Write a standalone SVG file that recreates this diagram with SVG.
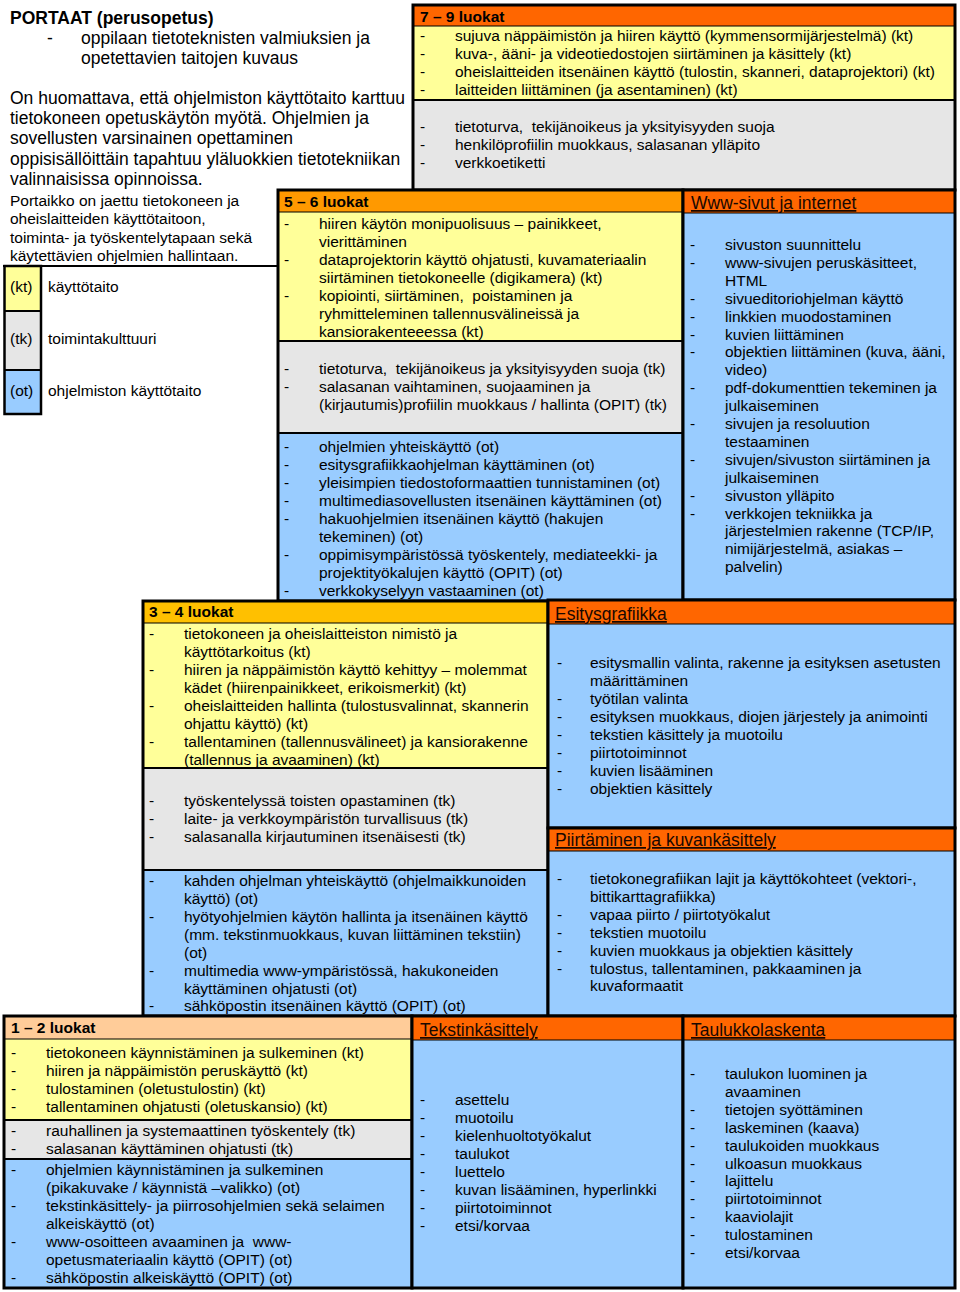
<svg xmlns="http://www.w3.org/2000/svg" width="960" height="1292" viewBox="0 0 960 1292">
<style>
text{font-family:"Liberation Sans",Arial,sans-serif;fill:#000}
.t{font-size:15.5px}
.h{font-size:15.5px;font-weight:bold}
.big{font-size:17.5px}
.bigb{font-size:17.5px;font-weight:bold}
.th{font-size:17.5px;text-decoration:underline;fill:#1a0800}
.y{fill:#FFFF99}.g{fill:#E6E6E6}.b{fill:#99CCFF}.o{fill:#FF6600}
.o2{fill:#FF9900}.o3{fill:#FFC000}.o4{fill:#FFCC99}
.box{fill:none;stroke:#000;stroke-width:3}
.dv{stroke:#000;stroke-width:2}
.dt{stroke:#000;stroke-width:1.2}
</style>
<rect width="960" height="1292" fill="#fff"/>

<g id="intro">
<text class="bigb" x="10" y="24">PORTAAT (perusopetus)</text>
<text class="big" x="47" y="44">-</text>
<text class="big" x="81" y="44">oppilaan tietoteknisten valmiuksien ja</text>
<text class="big" x="81" y="64">opetettavien taitojen kuvaus</text>
<text class="big" x="10" y="104">On huomattava, että ohjelmiston käyttötaito karttuu</text>
<text class="big" x="10" y="124.2">tietokoneen opetuskäytön myötä. Ohjelmien ja</text>
<text class="big" x="10" y="144.4">sovellusten varsinainen opettaminen</text>
<text class="big" x="10" y="164.6">oppisisällöittäin tapahtuu yläluokkien tietotekniikan</text>
<text class="big" x="10" y="184.8">valinnaisissa opinnoissa.</text>
<text class="t" x="10" y="206">Portaikko on jaettu tietokoneen ja</text>
<text class="t" x="10" y="224.3">oheislaitteiden käyttötaitoon,</text>
<text class="t" x="10" y="242.6">toiminta- ja työskentelytapaan sekä</text>
<text class="t" x="10" y="260.9">käytettävien ohjelmien hallintaan.</text>
</g>

<g id="legend">
<line x1="3" y1="266" x2="278" y2="266" class="dv"/>
<rect x="4" y="266" width="37" height="45" class="y"/>
<rect x="4" y="311" width="37" height="59" class="g"/>
<rect x="4" y="370" width="37" height="44" class="b"/>
<rect x="4.5" y="266" width="36.5" height="148" fill="none" stroke="#000" stroke-width="2.5"/>
<line x1="4" y1="311" x2="41" y2="311" class="dv"/>
<line x1="4" y1="370" x2="41" y2="370" class="dv"/>
<text class="t" x="10" y="292">(kt)</text>
<text class="t" x="48" y="292">käyttötaito</text>
<text class="t" x="10" y="344">(tk)</text>
<text class="t" x="48" y="344">toimintakulttuuri</text>
<text class="t" x="10" y="396">(ot)</text>
<text class="t" x="48" y="396">ohjelmiston käyttötaito</text>
</g>

<g id="luokat-7-9">
<rect x="413" y="5" width="542" height="21" class="o"/>
<rect x="413" y="26" width="542" height="74" class="y"/>
<rect x="413" y="100" width="542" height="90" class="g"/>
<line x1="413" y1="26" x2="955" y2="26" class="dt"/>
<line x1="413" y1="100" x2="955" y2="100" class="dv"/>
<rect x="413" y="5" width="542" height="185" class="box"/>
<text class="h" x="420" y="22">7 – 9 luokat</text>
<text class="t"><tspan x="420" y="41">-</tspan><tspan x="420" y="59">-</tspan><tspan x="420" y="77">-</tspan><tspan x="420" y="95">-</tspan><tspan x="420" y="132">-</tspan><tspan x="420" y="150">-</tspan><tspan x="420" y="168">-</tspan></text>
<text class="t">
<tspan x="455" y="41">sujuva näppäimistön ja hiiren käyttö (kymmensormijärjestelmä) (kt)</tspan>
<tspan x="455" y="59">kuva-, ääni- ja videotiedostojen siirtäminen ja käsittely (kt)</tspan>
<tspan x="455" y="77">oheislaitteiden itsenäinen käyttö (tulostin, skanneri, dataprojektori) (kt)</tspan>
<tspan x="455" y="95">laitteiden liittäminen (ja asentaminen) (kt)</tspan>
<tspan x="455" y="132">tietoturva,&#160; tekijänoikeus ja yksityisyyden suoja</tspan>
<tspan x="455" y="150">henkilöprofiilin muokkaus, salasanan ylläpito</tspan>
<tspan x="455" y="168">verkkoetiketti</tspan>
</text>
</g>

<g id="luokat-5-6">
<rect x="278" y="190" width="405" height="22" class="o2"/>
<rect x="278" y="212" width="405" height="129" class="y"/>
<rect x="278" y="341" width="405" height="92" class="g"/>
<rect x="278" y="433" width="405" height="168" class="b"/>
<line x1="278" y1="212" x2="683" y2="212" class="dt"/>
<line x1="278" y1="341" x2="683" y2="341" class="dv"/>
<line x1="278" y1="433" x2="683" y2="433" class="dv"/>
<rect x="278" y="190" width="405" height="411" class="box"/>
<text class="h" x="284" y="207">5 – 6 luokat</text>
<text class="t"><tspan x="284" y="229">-</tspan><tspan x="284" y="265">-</tspan><tspan x="284" y="301">-</tspan><tspan x="284" y="374">-</tspan><tspan x="284" y="392">-</tspan><tspan x="284" y="452">-</tspan><tspan x="284" y="470">-</tspan><tspan x="284" y="488">-</tspan><tspan x="284" y="506">-</tspan><tspan x="284" y="524">-</tspan><tspan x="284" y="560">-</tspan><tspan x="284" y="596">-</tspan></text>
<text class="t">
<tspan x="319" y="229">hiiren käytön monipuolisuus – painikkeet,</tspan>
<tspan x="319" y="247">vierittäminen</tspan>
<tspan x="319" y="265">dataprojektorin käyttö ohjatusti, kuvamateriaalin</tspan>
<tspan x="319" y="283">siirtäminen tietokoneelle (digikamera) (kt)</tspan>
<tspan x="319" y="301">kopiointi, siirtäminen,&#160; poistaminen ja</tspan>
<tspan x="319" y="319">ryhmitteleminen tallennusvälineissä ja</tspan>
<tspan x="319" y="337">kansiorakenteeessa (kt)</tspan>
<tspan x="319" y="374">tietoturva,&#160; tekijänoikeus ja yksityisyyden suoja (tk)</tspan>
<tspan x="319" y="392">salasanan vaihtaminen, suojaaminen ja</tspan>
<tspan x="319" y="410">(kirjautumis)profiilin muokkaus / hallinta (OPIT) (tk)</tspan>
<tspan x="319" y="452">ohjelmien yhteiskäyttö (ot)</tspan>
<tspan x="319" y="470">esitysgrafiikkaohjelman käyttäminen (ot)</tspan>
<tspan x="319" y="488">yleisimpien tiedostoformaattien tunnistaminen (ot)</tspan>
<tspan x="319" y="506">multimediasovellusten itsenäinen käyttäminen (ot)</tspan>
<tspan x="319" y="524">hakuohjelmien itsenäinen käyttö (hakujen</tspan>
<tspan x="319" y="542">tekeminen) (ot)</tspan>
<tspan x="319" y="560">oppimisympäristössä työskentely, mediateekki- ja</tspan>
<tspan x="319" y="578">projektityökalujen käyttö (OPIT) (ot)</tspan>
<tspan x="319" y="596">verkkokyselyyn vastaaminen (ot)</tspan>
</text>
</g>

<g id="www-sivut">
<rect x="683" y="190" width="272" height="23" class="o"/>
<rect x="683" y="213" width="272" height="387" class="b"/>
<line x1="683" y1="213" x2="955" y2="213" class="dt"/>
<rect x="683" y="190" width="272" height="410" class="box"/>
<text class="th" x="691" y="209">Www-sivut ja internet</text>
<text class="t"><tspan x="690" y="250">-</tspan><tspan x="690" y="267.9">-</tspan><tspan x="690" y="303.7">-</tspan><tspan x="690" y="321.6">-</tspan><tspan x="690" y="339.5">-</tspan><tspan x="690" y="357.4">-</tspan><tspan x="690" y="393.2">-</tspan><tspan x="690" y="429">-</tspan><tspan x="690" y="464.8">-</tspan><tspan x="690" y="500.6">-</tspan><tspan x="690" y="518.5">-</tspan></text>
<text class="t">
<tspan x="725" y="250">sivuston suunnittelu</tspan>
<tspan x="725" y="267.9">www-sivujen peruskäsitteet,</tspan>
<tspan x="725" y="285.8">HTML</tspan>
<tspan x="725" y="303.7">sivueditoriohjelman käyttö</tspan>
<tspan x="725" y="321.6">linkkien muodostaminen</tspan>
<tspan x="725" y="339.5">kuvien liittäminen</tspan>
<tspan x="725" y="357.4">objektien liittäminen (kuva, ääni,</tspan>
<tspan x="725" y="375.3">video)</tspan>
<tspan x="725" y="393.2">pdf-dokumenttien tekeminen ja</tspan>
<tspan x="725" y="411.1">julkaiseminen</tspan>
<tspan x="725" y="429">sivujen ja resoluution</tspan>
<tspan x="725" y="446.9">testaaminen</tspan>
<tspan x="725" y="464.8">sivujen/sivuston siirtäminen ja</tspan>
<tspan x="725" y="482.7">julkaiseminen</tspan>
<tspan x="725" y="500.6">sivuston ylläpito</tspan>
<tspan x="725" y="518.5">verkkojen tekniikka ja</tspan>
<tspan x="725" y="536.4">järjestelmien rakenne (TCP/IP,</tspan>
<tspan x="725" y="554.3">nimijärjestelmä, asiakas –</tspan>
<tspan x="725" y="572.2">palvelin)</tspan>
</text>
</g>

<g id="luokat-3-4">
<rect x="143" y="601" width="405" height="22" class="o3"/>
<rect x="143" y="623" width="405" height="145" class="y"/>
<rect x="143" y="768" width="405" height="102" class="g"/>
<rect x="143" y="870" width="405" height="146" class="b"/>
<line x1="143" y1="623" x2="548" y2="623" class="dt"/>
<line x1="143" y1="768" x2="548" y2="768" class="dv"/>
<line x1="143" y1="870" x2="548" y2="870" class="dv"/>
<rect x="143" y="601" width="405" height="415" class="box"/>
<text class="h" x="149" y="617">3 – 4 luokat</text>
<text class="t"><tspan x="149" y="639">-</tspan><tspan x="149" y="675">-</tspan><tspan x="149" y="711">-</tspan><tspan x="149" y="747">-</tspan><tspan x="149" y="806">-</tspan><tspan x="149" y="824">-</tspan><tspan x="149" y="842">-</tspan><tspan x="149" y="886">-</tspan><tspan x="149" y="922">-</tspan><tspan x="149" y="976">-</tspan><tspan x="149" y="1011">-</tspan></text>
<text class="t">
<tspan x="184" y="639">tietokoneen ja oheislaitteiston nimistö ja</tspan>
<tspan x="184" y="657">käyttötarkoitus (kt)</tspan>
<tspan x="184" y="675">hiiren ja näppäimistön käyttö kehittyy – molemmat</tspan>
<tspan x="184" y="693">kädet (hiirenpainikkeet, erikoismerkit) (kt)</tspan>
<tspan x="184" y="711">oheislaitteiden hallinta (tulostusvalinnat, skannerin</tspan>
<tspan x="184" y="729">ohjattu käyttö) (kt)</tspan>
<tspan x="184" y="747">tallentaminen (tallennusvälineet) ja kansiorakenne</tspan>
<tspan x="184" y="765">(tallennus ja avaaminen) (kt)</tspan>
<tspan x="184" y="806">työskentelyssä toisten opastaminen (tk)</tspan>
<tspan x="184" y="824">laite- ja verkkoympäristön turvallisuus (tk)</tspan>
<tspan x="184" y="842">salasanalla kirjautuminen itsenäisesti (tk)</tspan>
<tspan x="184" y="886">kahden ohjelman yhteiskäyttö (ohjelmaikkunoiden</tspan>
<tspan x="184" y="904">käyttö) (ot)</tspan>
<tspan x="184" y="922">hyötyohjelmien käytön hallinta ja itsenäinen käyttö</tspan>
<tspan x="184" y="940">(mm. tekstinmuokkaus, kuvan liittäminen tekstiin)</tspan>
<tspan x="184" y="958">(ot)</tspan>
<tspan x="184" y="976">multimedia www-ympäristössä, hakukoneiden</tspan>
<tspan x="184" y="994">käyttäminen ohjatusti (ot)</tspan>
<tspan x="184" y="1011">sähköpostin itsenäinen käyttö (OPIT) (ot)</tspan>
</text>
</g>

<g id="esitysgrafiikka">
<rect x="548" y="600" width="407" height="24" class="o"/>
<rect x="548" y="624" width="407" height="204" class="b"/>
<line x1="548" y1="624" x2="955" y2="624" class="dt"/>
<rect x="548" y="600" width="407" height="228" class="box"/>
<text class="th" x="555" y="620">Esitysgrafiikka</text>
<text class="t"><tspan x="557" y="668">-</tspan><tspan x="557" y="704">-</tspan><tspan x="557" y="722">-</tspan><tspan x="557" y="740">-</tspan><tspan x="557" y="758">-</tspan><tspan x="557" y="776">-</tspan><tspan x="557" y="794">-</tspan></text>
<text class="t">
<tspan x="590" y="668">esitysmallin valinta, rakenne ja esityksen asetusten</tspan>
<tspan x="590" y="686">määrittäminen</tspan>
<tspan x="590" y="704">työtilan valinta</tspan>
<tspan x="590" y="722">esityksen muokkaus, diojen järjestely ja animointi</tspan>
<tspan x="590" y="740">tekstien käsittely ja muotoilu</tspan>
<tspan x="590" y="758">piirtotoiminnot</tspan>
<tspan x="590" y="776">kuvien lisääminen</tspan>
<tspan x="590" y="794">objektien käsittely</tspan>
</text>
</g>

<g id="piirtaminen">
<rect x="548" y="828" width="407" height="23" class="o"/>
<rect x="548" y="851" width="407" height="165" class="b"/>
<line x1="548" y1="851" x2="955" y2="851" class="dt"/>
<rect x="548" y="828" width="407" height="188" class="box"/>
<text class="th" x="555" y="846">Piirtäminen ja kuvankäsittely</text>
<text class="t"><tspan x="557" y="884">-</tspan><tspan x="557" y="919.8">-</tspan><tspan x="557" y="937.7">-</tspan><tspan x="557" y="955.6">-</tspan><tspan x="557" y="973.5">-</tspan></text>
<text class="t">
<tspan x="590" y="884">tietokonegrafiikan lajit ja käyttökohteet (vektori-,</tspan>
<tspan x="590" y="901.9">bittikarttagrafiikka)</tspan>
<tspan x="590" y="919.8">vapaa piirto / piirtotyökalut</tspan>
<tspan x="590" y="937.7">tekstien muotoilu</tspan>
<tspan x="590" y="955.6">kuvien muokkaus ja objektien käsittely</tspan>
<tspan x="590" y="973.5">tulostus, tallentaminen, pakkaaminen ja</tspan>
<tspan x="590" y="991.4">kuvaformaatit</tspan>
</text>
</g>

<g id="luokat-1-2">
<rect x="4" y="1016" width="408" height="23" class="o4"/>
<rect x="4" y="1039" width="408" height="81" class="y"/>
<rect x="4" y="1120" width="408" height="39" class="g"/>
<rect x="4" y="1159" width="408" height="129" class="b"/>
<line x1="4" y1="1039" x2="412" y2="1039" class="dt"/>
<line x1="4" y1="1120" x2="412" y2="1120" class="dv"/>
<line x1="4" y1="1159" x2="412" y2="1159" class="dv"/>
<rect x="4" y="1016" width="408" height="272" class="box"/>
<text class="h" x="11" y="1033">1 – 2 luokat</text>
<text class="t"><tspan x="11" y="1058">-</tspan><tspan x="11" y="1076">-</tspan><tspan x="11" y="1094">-</tspan><tspan x="11" y="1112">-</tspan><tspan x="11" y="1136">-</tspan><tspan x="11" y="1154">-</tspan><tspan x="11" y="1175">-</tspan><tspan x="11" y="1211">-</tspan><tspan x="11" y="1247">-</tspan><tspan x="11" y="1283">-</tspan></text>
<text class="t">
<tspan x="46" y="1058">tietokoneen käynnistäminen ja sulkeminen (kt)</tspan>
<tspan x="46" y="1076">hiiren ja näppäimistön peruskäyttö (kt)</tspan>
<tspan x="46" y="1094">tulostaminen (oletustulostin) (kt)</tspan>
<tspan x="46" y="1112">tallentaminen ohjatusti (oletuskansio) (kt)</tspan>
<tspan x="46" y="1136">rauhallinen ja systemaattinen työskentely (tk)</tspan>
<tspan x="46" y="1154">salasanan käyttäminen ohjatusti (tk)</tspan>
<tspan x="46" y="1175">ohjelmien käynnistäminen ja sulkeminen</tspan>
<tspan x="46" y="1193">(pikakuvake / käynnistä –valikko) (ot)</tspan>
<tspan x="46" y="1211">tekstinkäsittely- ja piirrosohjelmien sekä selaimen</tspan>
<tspan x="46" y="1229">alkeiskäyttö (ot)</tspan>
<tspan x="46" y="1247">www-osoitteen avaaminen ja&#160; www-</tspan>
<tspan x="46" y="1265">opetusmateriaalin käyttö (OPIT) (ot)</tspan>
<tspan x="46" y="1283">sähköpostin alkeiskäyttö (OPIT) (ot)</tspan>
</text>
</g>

<g id="tekstinkasittely">
<rect x="412" y="1016" width="271" height="24" class="o"/>
<rect x="412" y="1040" width="271" height="248" class="b"/>
<line x1="412" y1="1040" x2="683" y2="1040" class="dt"/>
<rect x="412" y="1016" width="271" height="272" class="box"/>
<text class="th" x="420" y="1036">Tekstinkäsittely</text>
<text class="t"><tspan x="420" y="1105">-</tspan><tspan x="420" y="1123">-</tspan><tspan x="420" y="1141">-</tspan><tspan x="420" y="1159">-</tspan><tspan x="420" y="1177">-</tspan><tspan x="420" y="1195">-</tspan><tspan x="420" y="1213">-</tspan><tspan x="420" y="1231">-</tspan></text>
<text class="t">
<tspan x="455" y="1105">asettelu</tspan>
<tspan x="455" y="1123">muotoilu</tspan>
<tspan x="455" y="1141">kielenhuoltotyökalut</tspan>
<tspan x="455" y="1159">taulukot</tspan>
<tspan x="455" y="1177">luettelo</tspan>
<tspan x="455" y="1195">kuvan lisääminen, hyperlinkki</tspan>
<tspan x="455" y="1213">piirtotoiminnot</tspan>
<tspan x="455" y="1231">etsi/korvaa</tspan>
</text>
</g>

<g id="taulukkolaskenta">
<rect x="683" y="1016" width="272" height="24" class="o"/>
<rect x="683" y="1040" width="272" height="248" class="b"/>
<line x1="683" y1="1040" x2="955" y2="1040" class="dt"/>
<rect x="683" y="1016" width="272" height="272" class="box"/>
<text class="th" x="691" y="1036">Taulukkolaskenta</text>
<text class="t"><tspan x="690" y="1079">-</tspan><tspan x="690" y="1114.8">-</tspan><tspan x="690" y="1132.7">-</tspan><tspan x="690" y="1150.6">-</tspan><tspan x="690" y="1168.5">-</tspan><tspan x="690" y="1186.4">-</tspan><tspan x="690" y="1204.3">-</tspan><tspan x="690" y="1222.2">-</tspan><tspan x="690" y="1240.1">-</tspan><tspan x="690" y="1258">-</tspan></text>
<text class="t">
<tspan x="725" y="1079">taulukon luominen ja</tspan>
<tspan x="725" y="1096.9">avaaminen</tspan>
<tspan x="725" y="1114.8">tietojen syöttäminen</tspan>
<tspan x="725" y="1132.7">laskeminen (kaava)</tspan>
<tspan x="725" y="1150.6">taulukoiden muokkaus</tspan>
<tspan x="725" y="1168.5">ulkoasun muokkaus</tspan>
<tspan x="725" y="1186.4">lajittelu</tspan>
<tspan x="725" y="1204.3">piirtotoiminnot</tspan>
<tspan x="725" y="1222.2">kaaviolajit</tspan>
<tspan x="725" y="1240.1">tulostaminen</tspan>
<tspan x="725" y="1258">etsi/korvaa</tspan>
</text>
</g>

<g id="connectors"></g>
</svg>
